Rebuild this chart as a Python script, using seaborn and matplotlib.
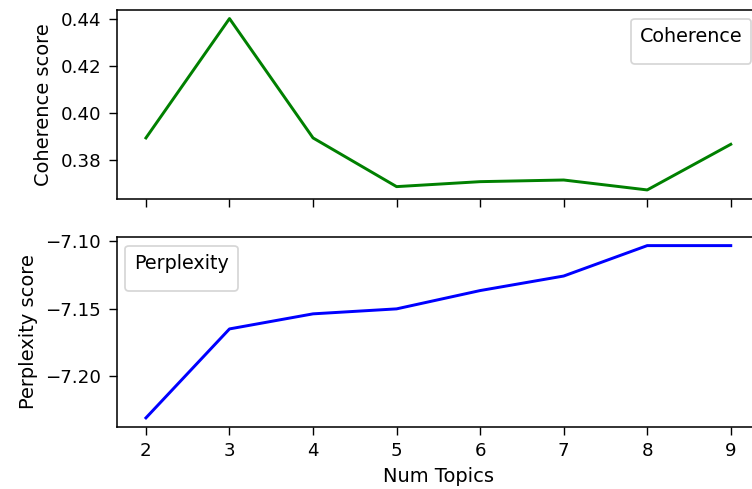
import matplotlib
matplotlib.use("Agg")
import matplotlib.pyplot as plt
import seaborn as sns
import pandas as pd

num_topics = [2, 3, 4, 5, 6, 7, 8, 9]
coherence = [0.3895, 0.4400, 0.3895, 0.3689, 0.3710, 0.3717, 0.3675, 0.3868]
perplexity = [-7.2312, -7.1651, -7.1539, -7.1502, -7.1366, -7.1258, -7.1032, -7.1032]

df = pd.DataFrame({"Num Topics": num_topics, "Coherence": coherence, "Perplexity": perplexity})

plt.rcParams["font.family"] = ["DejaVu Sans"]
plt.rcParams["xtick.major.size"] = 4.6
plt.rcParams["ytick.major.size"] = 4.6
plt.rcParams["xtick.major.pad"] = 4.4
plt.rcParams["ytick.major.pad"] = 4.4
plt.rcParams["xtick.labelsize"] = 10.5
plt.rcParams["ytick.labelsize"] = 10.5
plt.rcParams["axes.labelsize"] = 11.2
plt.rcParams["legend.title_fontsize"] = 11
plt.rcParams["axes.linewidth"] = 0.9

dpi = 125
fig = plt.figure(figsize=(752 / dpi, 489 / dpi), dpi=dpi)
W, H = 752, 489
left = 116.7 / W
width = (760 - 116.7) / W
ax1 = fig.add_axes([left, 1 - 198.5 / H, width, (198.5 - 10) / H])
ax2 = fig.add_axes([left, 1 - 426.5 / H, width, (426.5 - 237) / H], sharex=ax1)

sns.lineplot(data=df, x="Num Topics", y="Coherence", color="g", linewidth=1.7, ax=ax1, legend=False)
sns.lineplot(data=df, x="Num Topics", y="Perplexity", color="b", linewidth=1.7, ax=ax2, legend=False)

ax1.set_ylabel("Coherence score")
ax1.set_xlabel("")
ax2.set_ylabel("Perplexity score")
ax2.set_xlabel("Num Topics")
ax1.set_yticks([0.38, 0.40, 0.42, 0.44])
ax2.set_yticks([-7.20, -7.15, -7.10])
ax1.tick_params(labelbottom=False)

ax1.legend(handles=[], title="Coherence", loc="upper right", borderpad=0.5)
ax2.legend(handles=[], title="Perplexity", loc="upper left", borderpad=0.5)

fig.savefig("out.png", dpi=dpi)
